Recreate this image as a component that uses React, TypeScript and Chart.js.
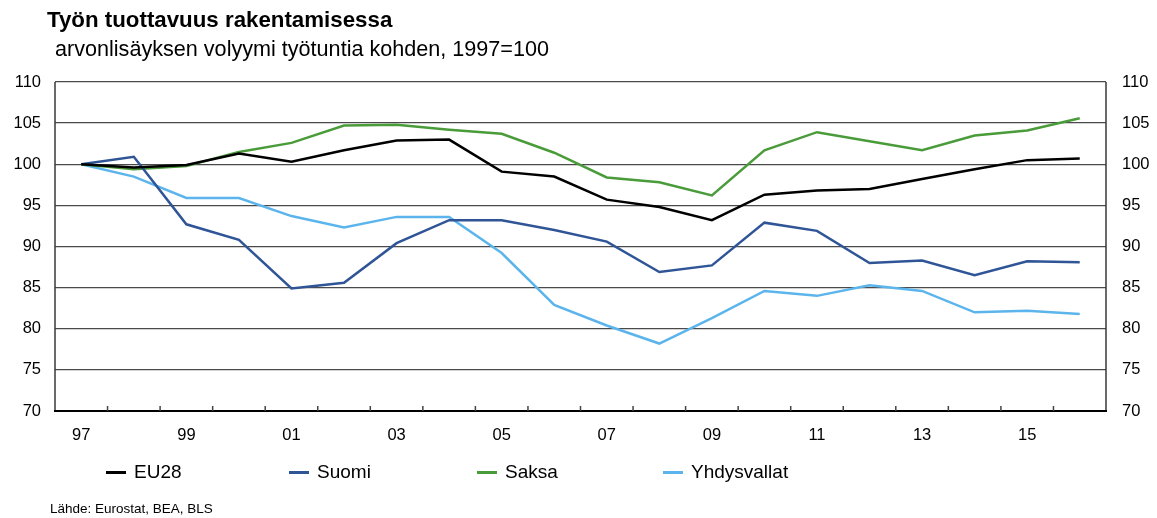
import React, { useEffect, useRef } from "react";
import { Chart, registerables } from "chart.js";

Chart.register(...registerables);

const years = ["97","98","99","00","01","02","03","04","05","06","07","08","09","10","11","12","13","14","15","16"];
const eu28 = [100, 99.6, 99.9, 101.3, 100.3, 101.7, 102.9, 103.0, 99.1, 98.5, 95.7, 94.8, 93.2, 96.3, 96.8, 97.0, 98.2, 99.4, 100.5, 100.7];
const suomi = [100, 100.9, 92.7, 90.8, 84.9, 85.6, 90.4, 93.2, 93.2, 92.0, 90.6, 86.9, 87.7, 92.9, 91.9, 88.0, 88.3, 86.5, 88.2, 88.1];
const saksa = [100, 99.4, 99.8, 101.5, 102.6, 104.7, 104.8, 104.2, 103.7, 101.4, 98.4, 97.8, 96.2, 101.7, 103.9, 102.8, 101.7, 103.5, 104.1, 105.6];
const yhdysvallat = [100, 98.5, 95.9, 95.9, 93.7, 92.3, 93.6, 93.6, 89.2, 82.9, 80.4, 78.2, 81.3, 84.6, 84.0, 85.3, 84.6, 82.0, 82.2, 81.8];

const seriesNames = ["EU28", "Suomi", "Saksa", "Yhdysvallat"];
const seriesColors = ["#000000", "#2F5597", "#4A9B3A", "#5BB5EC"];
const yMin = 70;
const yMax = 110;
const yStep = 5;

const FONT = "'Liberation Sans', Arial, Helvetica, sans-serif";

const framePlugin = {
  id: "frame",
  beforeDatasetsDraw(chart: any) {
    const { ctx, chartArea } = chart;
    const { left, right, top, bottom } = chartArea;
    ctx.save();
    ctx.strokeStyle = "#3a3a3a";
    ctx.lineWidth = 1.5;
    ctx.beginPath();
    ctx.moveTo(left, top);
    ctx.lineTo(left, bottom);
    ctx.moveTo(right, top);
    ctx.lineTo(right, bottom);
    ctx.stroke();
    ctx.strokeStyle = "#000";
    ctx.lineWidth = 2;
    ctx.beginPath();
    ctx.moveTo(left - 1, bottom);
    ctx.lineTo(right + 1, bottom);
    ctx.stroke();
    const xs = chart.scales.x;
    ctx.strokeStyle = "#444";
    ctx.lineWidth = 1.5;
    ctx.beginPath();
    for (let i = 1; i < years.length; i++) {
      const x = (xs.getPixelForValue(i - 1) + xs.getPixelForValue(i)) / 2;
      ctx.moveTo(x, bottom);
      ctx.lineTo(x, bottom - 5);
    }
    ctx.stroke();
    ctx.restore();
  },
};

export default function App() {
  const ref = useRef<HTMLCanvasElement | null>(null);

  useEffect(() => {
    document.body.style.margin = "0";
    const canvas = ref.current!;
    const data = [eu28, suomi, saksa, yhdysvallat];
    const chart = new Chart(canvas, {
      type: "line",
      data: {
        labels: years,
        datasets: seriesNames.map((name, i) => ({
          label: name,
          data: data[i],
          borderColor: seriesColors[i],
          backgroundColor: seriesColors[i],
          borderWidth: 2.5,
          pointRadius: 0,
          tension: 0,
          fill: false,
          yAxisID: "y",
        })),
      },
      options: {
        responsive: false,
        animation: false,
        layout: { padding: { top: 82, bottom: 77, left: 0, right: 0 } },
        plugins: {
          legend: { display: false },
          title: { display: false },
          tooltip: { enabled: false },
        },
        scales: {
          x: {
            type: "category",
            offset: true,
            grid: { display: false, drawTicks: false },
            border: { display: false },
            ticks: {
              autoSkip: false,
              maxRotation: 0,
              minRotation: 0,
              padding: 15,
              color: "#000",
              font: { family: FONT, size: 16.5 },
              callback: (_v: any, idx: number) => (idx % 2 === 0 ? years[idx] : ""),
            },
            afterFit: (s: any) => { s.height = 30; },
          },
          y: {
            position: "left",
            min: yMin,
            max: yMax,
            grid: { color: "#4a4a4a", lineWidth: 1.3, drawTicks: false },
            border: { display: false },
            ticks: {
              stepSize: yStep,
              padding: 14,
              color: "#000",
              font: { family: FONT, size: 16.5 },
            },
            afterFit: (s: any) => { s.width = 55; },
          },
          y2: {
            position: "right",
            min: yMin,
            max: yMax,
            grid: { display: false, drawTicks: false },
            border: { display: false },
            ticks: {
              stepSize: yStep,
              padding: 16,
              color: "#000",
              font: { family: FONT, size: 16.5 },
            },
            afterFit: (s: any) => { s.width = 51; },
          },
        },
      },
      plugins: [framePlugin],
    });
    return () => chart.destroy();
  }, []);

  const legendX = [106, 289, 477, 663];

  return (
    <div style={{ position: "fixed", left: 0, top: 0, width: 1157, height: 518, background: "#fff", fontFamily: FONT, color: "#000" }}>
      <canvas ref={ref} width={1157} height={518} style={{ position: "absolute", left: 0, top: 0, width: 1157, height: 518 }} />
      <div style={{ position: "absolute", left: 47, top: 6, fontSize: 22.3, fontWeight: "bold", whiteSpace: "nowrap", lineHeight: "28px" }}>
        Työn tuottavuus rakentamisessa
      </div>
      <div style={{ position: "absolute", left: 55, top: 37, fontSize: 21.6, whiteSpace: "nowrap", lineHeight: "24px" }}>
        arvonlisäyksen volyymi työtuntia kohden, 1997=100
      </div>
      {seriesNames.map((name, i) => (
        <div key={name} style={{ position: "absolute", left: legendX[i], top: 460, height: 24, display: "flex", alignItems: "center", whiteSpace: "nowrap" }}>
          <span style={{ display: "inline-block", width: 20, height: 3, background: seriesColors[i], marginRight: 8 }} />
          <span style={{ fontSize: 19 }}>{name}</span>
        </div>
      ))}
      <div style={{ position: "absolute", left: 50, top: 500, fontSize: 13.5, whiteSpace: "nowrap", lineHeight: "17px" }}>
        Lähde: Eurostat, BEA, BLS
      </div>
    </div>
  );
}
